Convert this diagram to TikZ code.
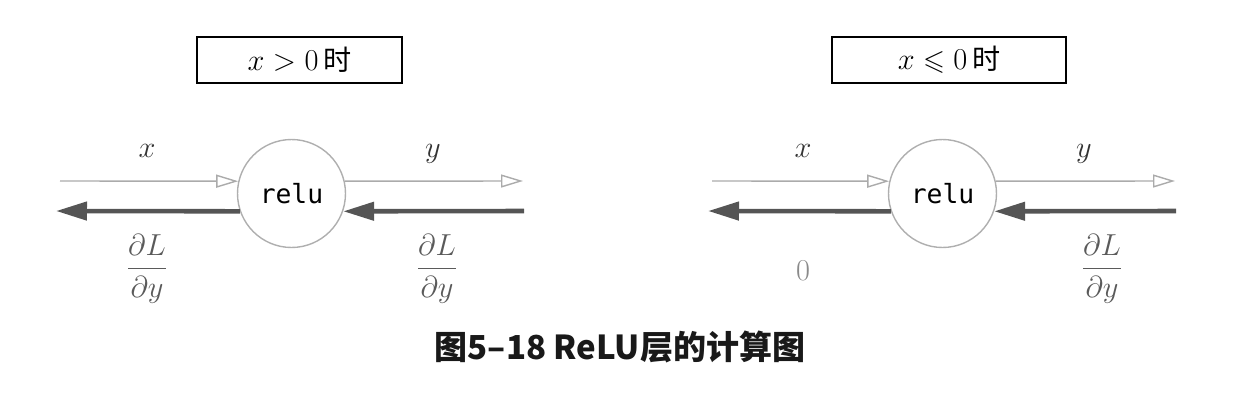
\documentclass[tikz,border=0pt]{standalone}
\usepackage{amsmath,amssymb}
\usepackage{fontspec}
\usetikzlibrary{arrows.meta,positioning}
\newfontfamily\cjkfont{Noto Sans CJK SC}
\newfontfamily\codefont{DejaVu Sans Mono}
\definecolor{fwdgray}{HTML}{ABABAB}
\definecolor{bwdgray}{HTML}{555555}
\definecolor{nodegray}{HTML}{AFAFAF}
\definecolor{labelgray}{HTML}{5A5A5A}
\definecolor{zerogray}{HTML}{8A8A8A}
\tikzset{
  relunode/.style={circle,draw=nodegray,line width=.8pt,minimum size=2.16cm,inner sep=0pt,font=\codefont\fontsize{15}{18}\selectfont},
  condbox/.style={draw=black,line width=1pt,minimum height=.92cm,inner sep=0pt,font=\fontsize{16}{19}\selectfont},
  fwd/.style={-{Triangle[open,length=4.4mm,width=2.6mm]},draw=fwdgray,line width=.8pt},
  bwd/.style={-{Triangle[length=6.2mm,width=3.6mm]},draw=bwdgray,line width=2.6pt},
  varlabel/.style={anchor=base,text=black!80,font=\fontsize{16}{19}\selectfont},
  gradlabel/.style={text=labelgray,inner sep=0pt,font=\fontsize{16}{19}\selectfont},
}

\begin{document}
\begin{tikzpicture}[x=0.02cm,y=-0.02cm]
			\useasboundingbox (0,0) rectangle (1242,406);
			% x > 0
			\node[condbox,minimum width=4.1cm] (boxpos) at (299.5,60) {$x>0$\,{\cjkfont 时}};
			\node[relunode] (relupos) at (291.5,193.5) {relu};
			\coordinate (posxin) at (60,181);
			\coordinate (posyout) at (523,181);
			\coordinate (posgin) at (524,211);
			\coordinate (posgout) at (56,211);
			\draw[fwd] (posxin)--(relupos.167);
			\draw[fwd] (relupos.13)--(posyout);
			\draw[bwd] (posgin)--(relupos.-19);
			\draw[bwd] (relupos.199)--(posgout);
			\node[varlabel] (posx) at (147,157) {$x$};
			\node[varlabel] (posy) at (433,157) {$y$};
			\node[gradlabel] (posdl) at (147,269) {$\dfrac{\partial L}{\partial y}$};
			\node[gradlabel] (posdr) at (437,269) {$\dfrac{\partial L}{\partial y}$};
			% x <= 0
			\node[condbox,minimum width=4.68cm] (boxneg) at (949,60) {$x\leqslant0$\,{\cjkfont 时}};
			\node[relunode] (reluneg) at (942.5,193.5) {relu};
			\coordinate (negxin) at (712,181);
			\coordinate (negyout) at (1175,181);
			\coordinate (neggin) at (1176,211);
			\coordinate (neggout) at (708,211);
			\draw[fwd] (negxin)--(reluneg.167);
			\draw[fwd] (reluneg.13)--(negyout);
			\draw[bwd] (neggin)--(reluneg.-19);
			\draw[bwd] (reluneg.199)--(neggout);
			\node[varlabel] (negx) at (803,157) {$x$};
			\node[varlabel] (negy) at (1084,157) {$y$};
			\node[gradlabel,text=zerogray] (negzero) at (803,271) {$0$};
			\node[gradlabel] (negdr) at (1102,269) {$\dfrac{\partial L}{\partial y}$};
			% caption
			\node[font=\cjkfont\bfseries\fontsize{18.8}{22}\selectfont,text=black!90] (caption) at (620,347) {图5–18 ReLU层的计算图};
		\end{tikzpicture}
\end{document}
